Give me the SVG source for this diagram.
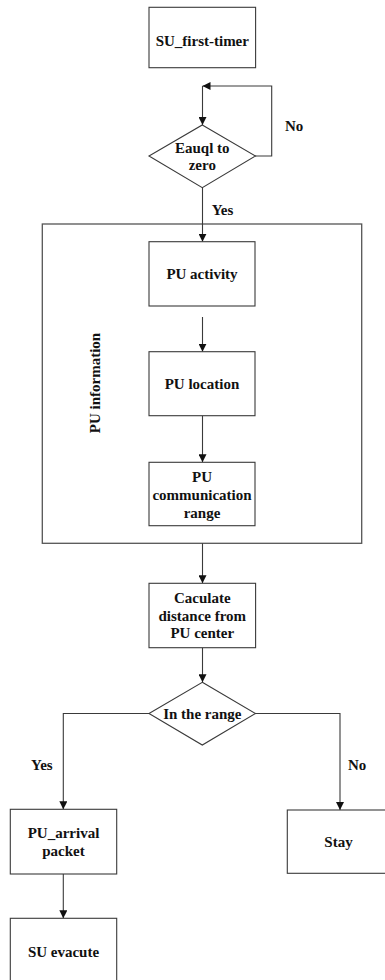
<svg xmlns="http://www.w3.org/2000/svg" width="385" height="980" viewBox="0 0 385 980">
  <style>
    .box { fill: #ffffff; stroke: #3a3a3a; stroke-width: 1.1; }
    .frame { fill: none; stroke: #555555; stroke-width: 1.3; }
    .lbl { font-family: "Liberation Serif", "Times New Roman", serif; font-weight: bold; font-size: 15px; fill: #111111; text-anchor: middle; }
    .tag { font-family: "Liberation Serif", "Times New Roman", serif; font-weight: bold; font-size: 15px; fill: #111111; }
    .conn { fill: none; stroke: #3a3a3a; stroke-width: 1.1; }
  </style>
  <defs>
    <marker id="arrow" viewBox="0 0 10 10" refX="10" refY="5" markerWidth="8" markerHeight="8" markerUnits="userSpaceOnUse" orient="auto">
      <path d="M0,0 L10,5 L0,10 Z" fill="#111111"/>
    </marker>
  </defs>
  <rect width="385" height="980" fill="#ffffff"/>

  <!-- grouping frame for the PU information stages -->
  <g id="pu-information">
    <rect class="frame" x="42.3" y="224" width="319.4" height="319.3"/>
    <text class="tag" text-anchor="middle" transform="translate(100,383) rotate(-90)">PU information</text>
  </g>

  <g id="connectors">
    <path class="conn" d="M255,156 H271.7 V86 H202.5" marker-end="url(#arrow)"/>
    <path class="conn" d="M202.5,86 V125" marker-end="url(#arrow)"/>
    <path class="conn" d="M202.5,188 V241.7" marker-end="url(#arrow)"/>
    <path class="conn" d="M202.5,317 V351.7" marker-end="url(#arrow)"/>
    <path class="conn" d="M202.5,415.7 V462.3" marker-end="url(#arrow)"/>
    <path class="conn" d="M202.5,543.3 V583.3" marker-end="url(#arrow)"/>
    <path class="conn" d="M202.5,647.7 V682.3" marker-end="url(#arrow)"/>
    <path class="conn" d="M149,713.5 H63.3 V809.3" marker-end="url(#arrow)"/>
    <path class="conn" d="M255.5,713.5 H340 V810" marker-end="url(#arrow)"/>
    <path class="conn" d="M63.3,874 V918.3" marker-end="url(#arrow)"/>
    <text class="tag" x="285" y="130.5">No</text>
    <text class="tag" x="211.7" y="215">Yes</text>
    <text class="tag" x="31" y="770">Yes</text>
    <text class="tag" x="348" y="770">No</text>
  </g>

  <g id="su-first-timer">
    <rect class="box" x="149" y="7.3" width="106.6" height="60.4"/>
    <text class="lbl" x="202.3" y="45.7">SU_first-timer</text>
  </g>

  <g id="equal-to-zero">
    <polygon class="box" points="202.3,125 255.5,156 202.3,187.7 149,156"/>
    <text class="lbl" x="202.3" y="152.5">Eauql to</text>
    <text class="lbl" x="202.3" y="170.3">zero</text>
  </g>

  <g id="pu-activity">
    <rect class="box" x="149" y="241.7" width="106" height="64.3"/>
    <text class="lbl" x="202" y="279">PU activity</text>
  </g>

  <g id="pu-location">
    <rect class="box" x="149" y="351.7" width="106" height="64"/>
    <text class="lbl" x="202" y="389">PU location</text>
  </g>

  <g id="pu-communication-range">
    <rect class="box" x="149" y="462.3" width="106" height="63.4"/>
    <text class="lbl" x="202" y="481.5">PU</text>
    <text class="lbl" x="202" y="500">communication</text>
    <text class="lbl" x="202" y="518">range</text>
  </g>

  <g id="calculate-distance">
    <rect class="box" x="149" y="583.3" width="106.6" height="64.4"/>
    <text class="lbl" x="202.3" y="602.5">Caculate</text>
    <text class="lbl" x="202.3" y="620.5">distance from</text>
    <text class="lbl" x="202.3" y="638.3">PU center</text>
  </g>

  <g id="in-the-range">
    <polygon class="box" points="202.3,682.3 255.5,713.5 202.3,745 149,713.5"/>
    <text class="lbl" x="202.3" y="718.5">In the range</text>
  </g>

  <g id="pu-arrival-packet">
    <rect class="box" x="10.3" y="809.3" width="106.4" height="64.7"/>
    <text class="lbl" x="63.5" y="838">PU_arrival</text>
    <text class="lbl" x="63.5" y="855.7">packet</text>
  </g>

  <g id="stay">
    <rect class="box" x="287.3" y="810" width="106.4" height="63.3"/>
    <text class="lbl" x="338.5" y="847">Stay</text>
  </g>

  <g id="su-evacute">
    <rect class="box" x="10.3" y="918.3" width="106.4" height="64.4"/>
    <text class="lbl" x="63.5" y="956.5">SU evacute</text>
  </g>
</svg>
